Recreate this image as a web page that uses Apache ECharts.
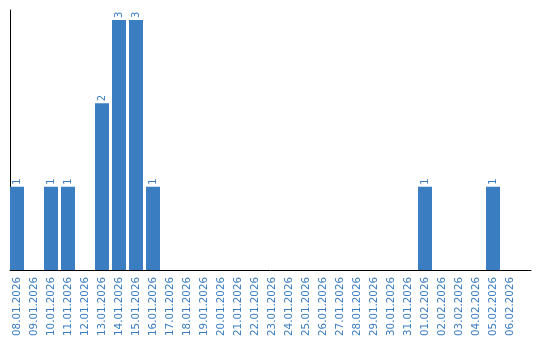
<!DOCTYPE html>
<html><head><meta charset="utf-8">
<script src="https://cdn.jsdelivr.net/npm/echarts@6/dist/echarts.min.js"></script>
<style>html,body{margin:0;padding:0;background:#fff}#c{width:540px;height:340px}</style>
</head><body><div id="c"></div>
<script>
var categories = ['08.01.2026','09.01.2026','10.01.2026','11.01.2026','12.01.2026','13.01.2026','14.01.2026','15.01.2026','16.01.2026','17.01.2026','18.01.2026','19.01.2026','20.01.2026','21.01.2026','22.01.2026','23.01.2026','24.01.2026','25.01.2026','26.01.2026','27.01.2026','28.01.2026','29.01.2026','30.01.2026','31.01.2026','01.02.2026','02.02.2026','03.02.2026','04.02.2026','05.02.2026','06.02.2026'];
var values = [1,0,1,1,0,2,3,3,1,0,0,0,0,0,0,0,0,0,0,0,0,0,0,0,1,0,0,0,1,0];
var blue = '#3b7dc1';
var chart = echarts.init(document.getElementById('c'), null, {renderer:'canvas'});
chart.setOption({
  animation: false,
  textStyle: {fontFamily: 'DejaVu Sans'},
  grid: [
    {left: 8.5, right: 21.5, top: 10, bottom: 70},
    {left: 10, right: 9, top: 10, bottom: 70}
  ],
  xAxis: [
    {type: 'category', gridIndex: 0, data: categories,
     axisLine: {show: false}, axisTick: {show: false},
     axisLabel: {rotate: 90, interval: 0, margin: 7, color: blue, fontSize: 10.3, fontFamily: 'DejaVu Sans'}},
    {type: 'category', gridIndex: 1, data: [''],
     axisLine: {show: true, lineStyle: {color: '#000', width: 1}}, axisTick: {show: false}, axisLabel: {show: false}}
  ],
  yAxis: [
    {type: 'value', gridIndex: 0, min: 0, max: 3.12, offset: -1.5,
     axisLine: {show: true, lineStyle: {color: '#000', width: 1}}, axisTick: {show: false},
     axisLabel: {show: false}, splitLine: {show: false}},
    {type: 'value', gridIndex: 1, min: 0, max: 1, show: false}
  ],
  series: [{
    type: 'bar', xAxisIndex: 0, yAxisIndex: 0, data: values, barWidth: 14,
    itemStyle: {color: blue},
    label: {show: true, position: 'top', rotate: 90, align: 'left', verticalAlign: 'middle', distance: 2,
      color: blue, fontSize: 10, fontFamily: 'DejaVu Sans',
      formatter: function(p){ return p.value ? String(p.value) : ''; }}
  }]
});
</script></body></html>
